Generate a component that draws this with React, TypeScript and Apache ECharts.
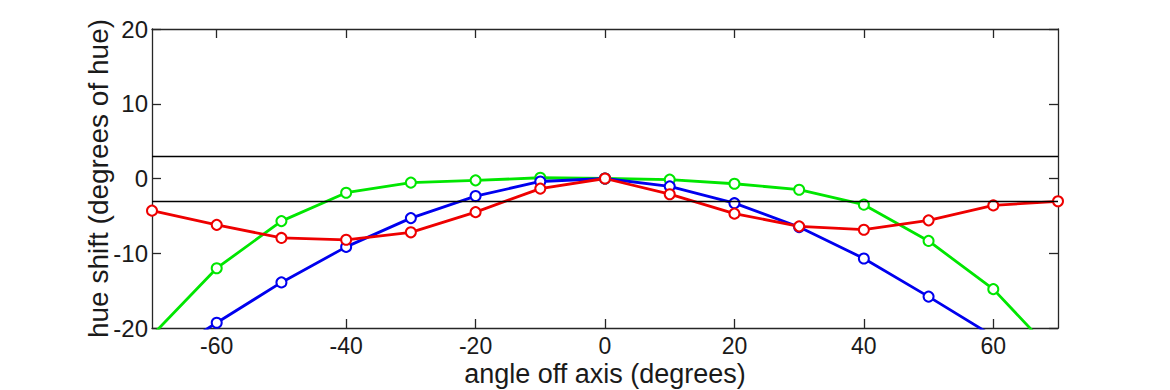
import React, { useEffect, useRef } from "react";
import * as echarts from "echarts";

const angles = [-70, -60, -50, -40, -30, -20, -10, 0, 10, 20, 30, 40, 50, 60, 70];
const greenShift = [-21.0, -12.0, -5.7, -1.9, -0.55, -0.25, 0.1, 0, -0.15, -0.7, -1.5, -3.5, -8.35, -14.8, -24.0];
const blueShift = [-24.8, -19.3, -13.9, -9.15, -5.3, -2.35, -0.4, 0, -1.05, -3.3, -6.5, -10.7, -15.8, -21.1, -26.5];
const redShift = [-4.3, -6.2, -7.95, -8.2, -7.2, -4.5, -1.35, 0, -2.1, -4.7, -6.4, -6.85, -5.6, -3.6, -3.05];
const thresholds = [3, -3];
const xTicks = [-60, -40, -20, 0, 20, 40, 60];
const yTicks = [-20, -10, 0, 10, 20];

const FONT = "'Liberation Sans', Arial, Helvetica, sans-serif";
const AXIS_COLOR = "#262626";
const TEXT_COLOR = "#1a1a1a";

function pairs(ys: number[]) {
  return angles.map((a, i) => [a, ys[i]]);
}

export default function App() {
  const ref = useRef<HTMLDivElement>(null);
  useEffect(() => {
    if (!ref.current) return;
    const chart = echarts.init(ref.current, undefined, { renderer: "svg" });
    const axisLine = { show: true, onZero: false, lineStyle: { color: AXIS_COLOR, width: 1.3 } };
    const tickStyle = { show: true, inside: true, length: 9, lineStyle: { color: AXIS_COLOR, width: 1.3 } };
    const mkSeries = (name: string, color: string, ys: number[]) => ({
      name,
      type: "line",
      data: pairs(ys),
      symbol: "emptyCircle",
      symbolSize: 10,
      showSymbol: true,
      clip: true,
      z: 3,
      lineStyle: { color, width: 2.8 },
      itemStyle: { color, borderColor: color, borderWidth: 2.4 },
    });
    chart.setOption({
      animation: false,
      backgroundColor: "#ffffff",
      grid: { left: 152, right: 112, top: 29, bottom: 62, containLabel: false, outerBoundsMode: "none" },
      xAxis: [
        {
          type: "value",
          min: -70,
          max: 70,
          interval: 10,
          position: "bottom",
          name: "angle off axis (degrees)",
          nameLocation: "middle",
          nameGap: 32,
          nameMoveOverlap: false,
          nameTextStyle: { fontFamily: FONT, fontSize: 27, color: TEXT_COLOR },
          axisLine,
          axisTick: { ...tickStyle, customValues: xTicks },
          splitLine: { show: false },
          axisLabel: {
            fontFamily: FONT,
            fontSize: 23,
            color: TEXT_COLOR,
            margin: 6,
            customValues: xTicks,
          },
        },
        {
          type: "value",
          min: -70,
          max: 70,
          interval: 10,
          position: "top",
          axisLine,
          axisTick: { ...tickStyle, customValues: xTicks },
          axisLabel: { show: false },
          splitLine: { show: false },
        },
      ],
      yAxis: [
        {
          type: "value",
          min: -20,
          max: 20,
          interval: 10,
          position: "left",
          name: "hue shift (degrees of hue)",
          nameLocation: "middle",
          nameGap: 40,
          nameMoveOverlap: false,
          nameTextStyle: { fontFamily: FONT, fontSize: 28, color: TEXT_COLOR },
          axisLine,
          axisTick: { ...tickStyle, customValues: yTicks },
          splitLine: { show: false },
          axisLabel: { fontFamily: FONT, fontSize: 24, color: TEXT_COLOR, margin: 4, customValues: yTicks },
        },
        {
          type: "value",
          min: -20,
          max: 20,
          interval: 10,
          position: "right",
          axisLine,
          axisTick: { ...tickStyle, customValues: yTicks },
          axisLabel: { show: false },
          splitLine: { show: false },
        },
      ],
      series: [
        {
          name: "limits",
          type: "line",
          data: [],
          z: 1,
          markLine: {
            silent: true,
            symbol: "none",
            label: { show: false },
            lineStyle: { color: "#000", width: 1.3, type: "solid" },
            data: thresholds.map((t) => ({ yAxis: t })),
          },
        },
        mkSeries("green", "#00e600", greenShift),
        mkSeries("blue", "#0000ee", blueShift),
        mkSeries("red", "#ee0000", redShift),
      ],
    });
    return () => chart.dispose();
  }, []);
  return (
    <div
      ref={ref}
      style={{ position: "fixed", left: 0, top: 0, width: 1170, height: 390, background: "#fff" }}
    />
  );
}
